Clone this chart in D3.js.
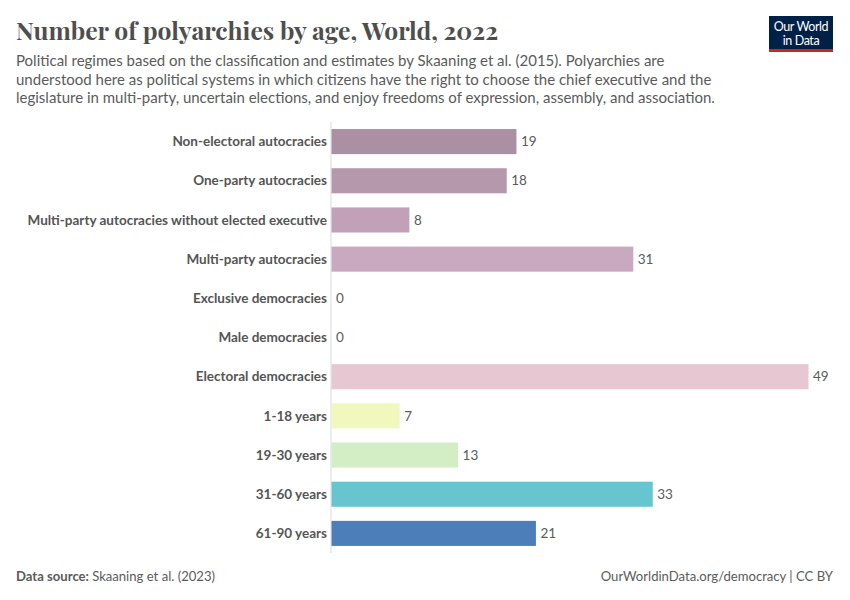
<!DOCTYPE html>
<html>
<head>
<meta charset="utf-8">
<script src="https://cdn.jsdelivr.net/npm/d3@7"></script>
<style>
  body { margin: 0; background: #fff; }
  text { font-family: Lato, "Noto Sans", sans-serif; }
</style>
</head>
<body>
<div id="chart"></div>
<script>
// chart data
var categories = [
    "Non-electoral autocracies",
    "One-party autocracies",
    "Multi-party autocracies without elected executive",
    "Multi-party autocracies",
    "Exclusive democracies",
    "Male democracies",
    "Electoral democracies",
    "1-18 years",
    "19-30 years",
    "31-60 years",
    "61-90 years"
];
var values = [19, 18, 8, 31, 0, 0, 49, 7, 13, 33, 21];
var barColors = ["#ab8fa3", "#b698ad", "#c1a0b8", "#c9a9bf", "#c9a9bf", "#dcc0cc",
    "#e7c7d2", "#f0f8bd", "#d3edc5", "#67c5cf", "#4c7fba"];

var subtitleLines = [
    "Political regimes based on the classification and estimates by Skaaning et al. (2015). Polyarchies are",
    "understood here as political systems in which citizens have the right to choose the chief executive and the",
    "legislature in multi-party, uncertain elections, and enjoy freedoms of expression, assembly, and association."
];

var width = 850, height = 600;
var margin = { top: 122, left: 331, right: 42, bottom: 47 };

var svg = d3.select("#chart").append("svg")
    .attr("width", width)
    .attr("height", height);

// title
svg.append("text")
    .attr("x", 16).attr("y", 40)
    .style("font-family", "'Playfair Display', 'Liberation Serif', serif")
    .style("font-size", "24.7px")
    .style("font-weight", "bold")
    .style("fill", "#4e4e4e")
    .text("Number of polyarchies by age, World, 2022");

svg.append("g").selectAll("text")
    .data(subtitleLines)
    .enter().append("text")
    .attr("x", 16)
    .attr("y", function (d, i) { return 66 + i * 18.5; })
    .style("font-size", "15px")
    .style("fill", "#5b5b5b")
    .text(function (d) { return d; });

// logo
var logo = svg.append("g").attr("transform", "translate(769,16)");
logo.append("rect").attr("width", 64).attr("height", 36).attr("fill", "#002147");
logo.append("rect").attr("y", 33).attr("width", 64).attr("height", 3).attr("fill", "#ce261e");
logo.append("text").attr("x", 32).attr("y", 15).attr("text-anchor", "middle")
    .style("font-size", "12.5px").style("fill", "#fff").style("letter-spacing", "-0.4px")
    .text("Our World");
logo.append("text").attr("x", 32).attr("y", 28.5).attr("text-anchor", "middle")
    .style("font-size", "12.5px").style("fill", "#fff").style("letter-spacing", "-0.4px")
    .text("in Data");

// scales
var x = d3.scaleLinear()
    .domain([0, 49])
    .range([margin.left, 808]);

var y = d3.scaleBand()
    .domain(categories)
    .range([margin.top, height - margin.bottom])
    .paddingInner(0.36)
    .paddingOuter(0.18);

// axis line
svg.append("line")
    .attr("x1", x(0)).attr("x2", x(0))
    .attr("y1", margin.top).attr("y2", height - margin.bottom)
    .attr("stroke", "#dadada");

// bars
svg.append("g").selectAll("rect")
    .data(values)
    .enter().append("rect")
    .attr("x", x(0) + 0.5)
    .attr("y", function (d, i) { return y(categories[i]); })
    .attr("width", function (d) { return Math.max(0, x(d) - x(0)); })
    .attr("height", y.bandwidth())
    .attr("fill", function (d, i) { return barColors[i]; });

// value labels
svg.append("g").selectAll("text")
    .data(values)
    .enter().append("text")
    .attr("x", function (d) { return x(d) + 5; })
    .attr("y", function (d, i) { return y(categories[i]) + y.bandwidth() / 2; })
    .attr("dy", "0.35em")
    .style("font-size", "13.5px")
    .style("fill", "#5b5b5b")
    .text(function (d) { return d; });

// category labels
svg.append("g").selectAll("text")
    .data(categories)
    .enter().append("text")
    .attr("x", x(0) - 4)
    .attr("y", function (d) { return y(d) + y.bandwidth() / 2; })
    .attr("dy", "0.35em")
    .attr("text-anchor", "end")
    .style("font-size", "13.5px")
    .style("font-weight", "bold")
    .style("fill", "#555")
    .text(function (d) { return d; });

// footer
var src = svg.append("text").attr("x", 16).attr("y", 581)
    .style("font-size", "13.1px").style("fill", "#5b5b5b");
src.append("tspan").style("font-weight", "bold").text("Data source: ");
src.append("tspan").text("Skaaning et al. (2023)");

svg.append("text").attr("x", 833).attr("y", 581)
    .attr("text-anchor", "end")
    .style("font-size", "13.1px").style("fill", "#5b5b5b")
    .text("OurWorldinData.org/democracy | CC BY");
</script>
</body>
</html>
